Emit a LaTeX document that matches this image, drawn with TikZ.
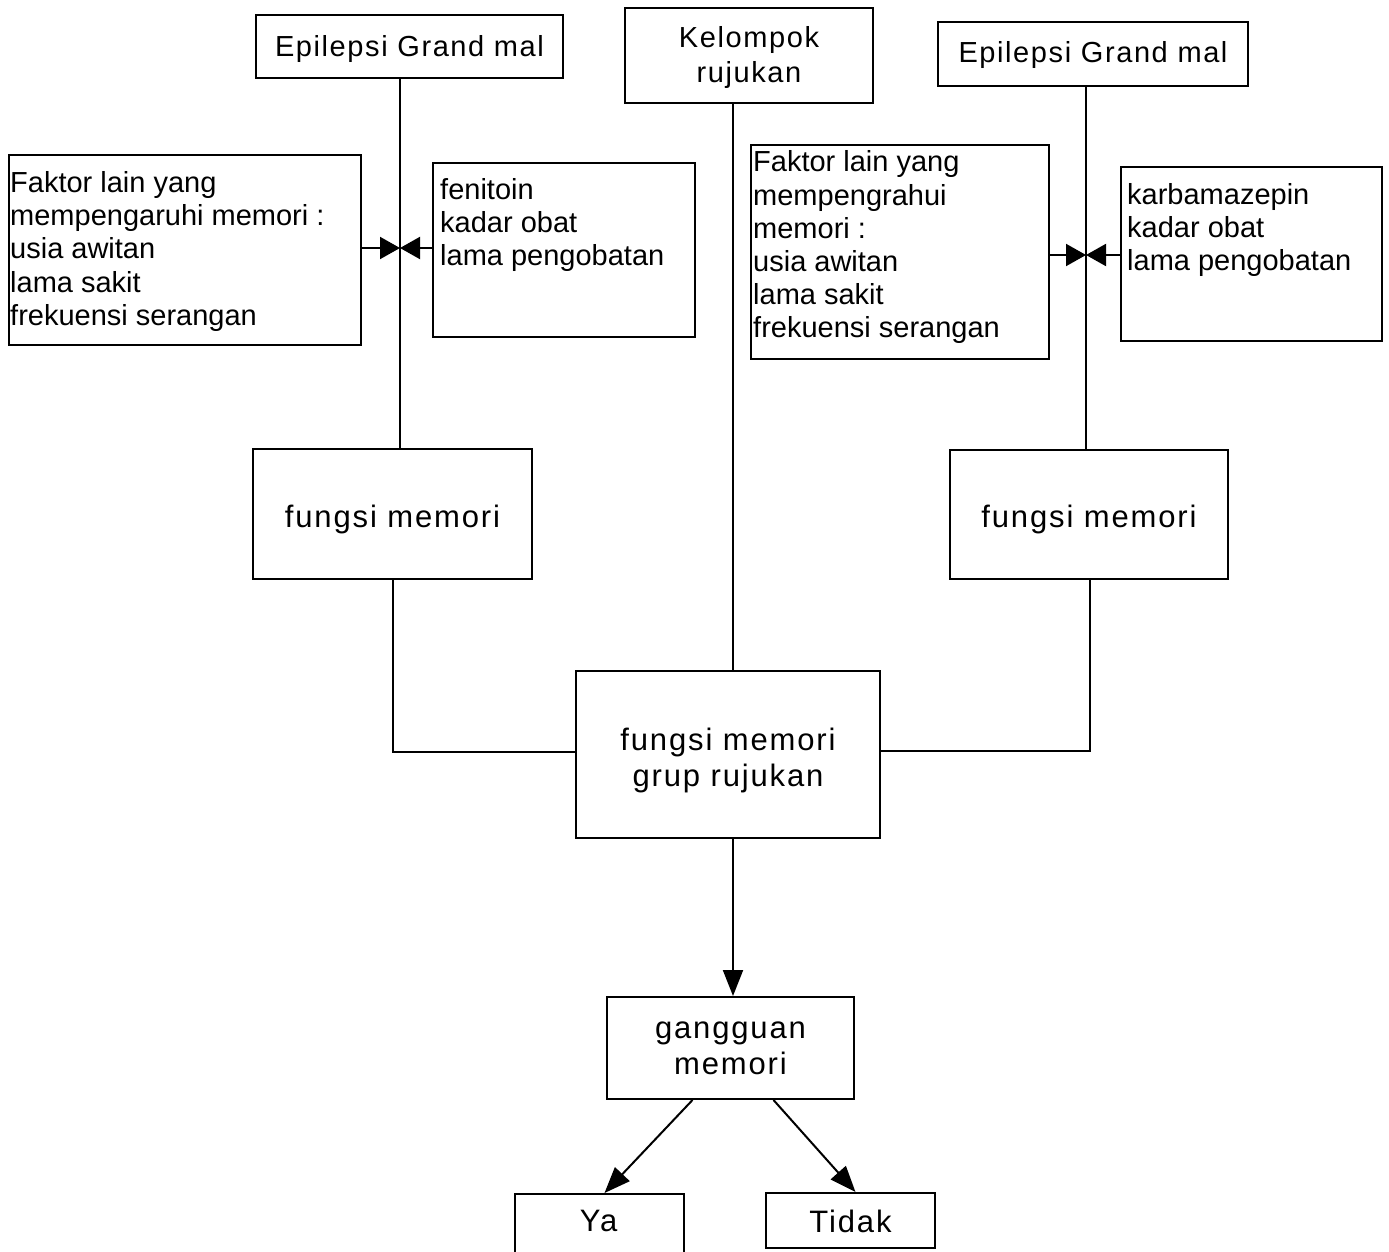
\documentclass[tikz,border=0pt]{standalone}
\usepackage{fontspec}
\setmainfont{Liberation Sans}
\newfontfamily\lblfont[LetterSpace=6]{Liberation Sans}
\newfontfamily\lblsfont[LetterSpace=5.5]{Liberation Sans}
\usetikzlibrary{arrows.meta,calc}
\begin{document}
\begin{tikzpicture}[x=1pt,y=-1pt,
  plain/.style={draw, line width=2pt, inner sep=0pt},
  txt/.style={inner sep=0pt, align=center, font=\lblfont\fontsize{31}{36}\selectfont},
  stxt/.style={inner sep=0pt, align=center, font=\lblsfont\fontsize{29}{35}\selectfont},
  listtxt/.style={inner sep=0pt, anchor=west, align=left, font=\fontsize{29}{33.2}\selectfont},
  conn/.style={line width=2pt},
  conv/.style={line width=2pt, -{Triangle[length=20pt,width=22pt]}},
  arr/.style={line width=2pt, -{Triangle[length=26pt,width=20pt]}}
]
\useasboundingbox (0,0) rectangle (1389,1252);
\fill[white] (0,0) rectangle (1389,1252);

% top boxes
\node[plain, minimum width=307pt, minimum height=63pt] (egm1) at (409.5,46.5) {};
\node[stxt] (egm1t) at ($(egm1.center)+(0,3)$) {Epilepsi Grand mal};
\node[plain, minimum width=248pt, minimum height=95pt] (kel) at (749,55.5) {};
\node[stxt] (kelt) at ($(kel.center)+(0,2.5)$) {Kelompok\\rujukan};
\node[plain, minimum width=310pt, minimum height=64pt] (egm2) at (1093,54) {};
\node[stxt] (egm2t) at ($(egm2.center)+(0,1)$) {Epilepsi Grand mal};

% factor boxes
\node[plain, minimum width=352pt, minimum height=190pt] (fak1) at (185,250) {};
\node[listtxt] (fak1t) at (10,251.5) {Faktor lain yang\\mempengaruhi memori :\\usia awitan\\lama sakit\\frekuensi serangan};
\node[plain, minimum width=262pt, minimum height=174pt] (fen) at (564,250) {};
\node[listtxt] (fent) at (440,225) {fenitoin\\kadar obat\\lama pengobatan};
\node[plain, minimum width=298pt, minimum height=214pt] (fak2) at (900,252) {};
\node[listtxt] (fak2t) at (753,247.5) {Faktor lain yang\\mempengrahui\\memori :\\usia awitan\\lama sakit\\frekuensi serangan};
\node[plain, minimum width=261pt, minimum height=174pt] (karb) at (1251.5,254) {};
\node[listtxt] (karbt) at (1127,230) {karbamazepin\\kadar obat\\lama pengobatan};

% memory boxes
\node[plain, minimum width=279pt, minimum height=130pt] (fm1) at (392.5,514) {};
\node[txt] (fm1t) at ($(fm1.center)+(0,5)$) {fungsi memori};
\node[plain, minimum width=278pt, minimum height=129pt] (fm2) at (1089,514.5) {};
\node[txt] (fm2t) at ($(fm2.center)+(0,5)$) {fungsi memori};
\node[plain, minimum width=304pt, minimum height=167pt] (grp) at (728,754.5) {};
\node[txt] (grpt) at ($(grp.center)+(0,6)$) {fungsi memori\\grup rujukan};
\node[plain, minimum width=247pt, minimum height=102pt] (gang) at (730.5,1048) {};
\node[txt] (gangt) at ($(gang.center)+(0,0.5)$) {gangguan\\memori};
\node[plain, minimum width=169pt, minimum height=66pt, anchor=north] (ya) at (599.5,1193) {};
\node[txt] (yat) at (598.5,1221) {Ya};
\node[plain, minimum width=169pt, minimum height=55pt] (tidak) at (850.5,1220.5) {};
\node[txt] (tidakt) at ($(tidak.center)+(0,1)$) {Tidak};

% coordinates
\coordinate (m1) at (400,248);
\coordinate (m2) at (1086,255);
\coordinate (cl) at (733,0);
\coordinate (j1) at (393,752);
\coordinate (j2) at (1090,751);

% connectors
\draw[conn] (egm1.south -| m1) -- (fm1.north -| m1);
\draw[conv] (fak1.east |- m1) -- (m1);
\draw[conv] (fen.west |- m1) -- (m1);
\draw[conn] (egm2.south -| m2) -- (fm2.north -| m2);
\draw[conv] (fak2.east |- m2) -- (m2);
\draw[conv] (karb.west |- m2) -- (m2);
\draw[conn] (kel.south -| cl) -- (grp.north -| cl);
\draw[conn] (fm1.south -| j1) |- (grp.west |- j1);
\draw[conn] (fm2.south -| j2) |- (grp.east |- j2);
\draw[arr] (grp.south -| cl) -- (gang.north -| cl);
\draw[arr] ($(gang.south)+(-38,0)$) -- ($(ya.north)+(5,0)$);
\draw[arr] ($(gang.south)+(43,0)$) -- ($(tidak.north)+(5,0)$);
\end{tikzpicture}
\end{document}
